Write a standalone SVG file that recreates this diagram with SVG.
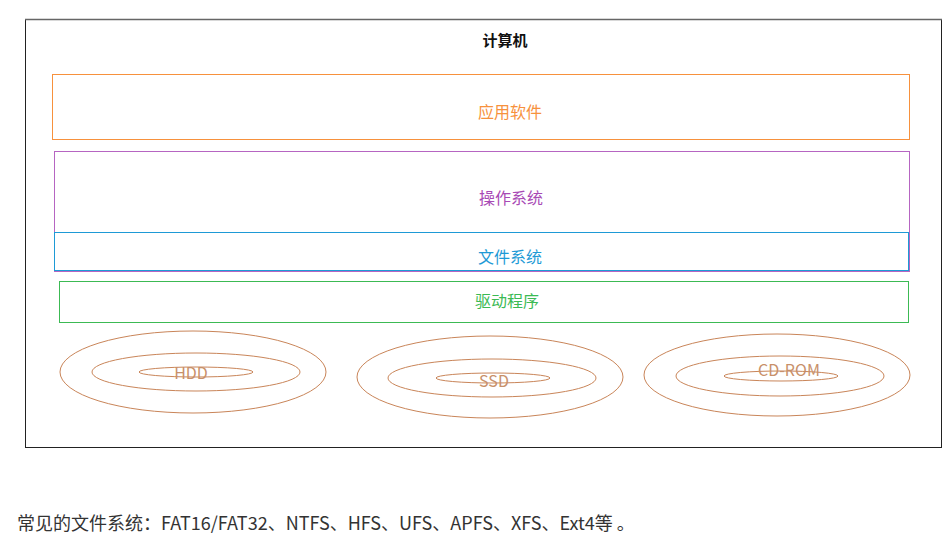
<svg xmlns="http://www.w3.org/2000/svg" width="947" height="548" viewBox="0 0 947 548">
<style>
text{font-family:"Noto Sans CJK SC","Liberation Sans",sans-serif;font-size:16px;text-anchor:middle;dominant-baseline:central}
.box{fill:none;stroke-width:1}
.disk{fill:none;stroke:#c98559;stroke-width:1}
.dl{fill:#c8906a}
</style>
<rect width="947" height="548" fill="#fff"/>
<g id="computer">
<rect x="25.5" y="19.5" width="916" height="428" fill="none" stroke="#222" stroke-width="1"/>
<line x1="25" y1="19.5" x2="942" y2="19.5" stroke="#666" stroke-width="1.5"/>
<text x="505" y="39" fill="#111" font-weight="bold" style="font-size:15px">计算机</text>
</g>
<g id="app">
<rect class="box" x="52.5" y="74.5" width="857" height="65" stroke="#f7913d"/>
<text x="510" y="111" fill="#f7913d">应用软件</text>
</g>
<g id="os">
<rect class="box" x="54.5" y="151.5" width="855" height="120" stroke="#b665c2"/>
<text x="511" y="197" fill="#a84ab5">操作系统</text>
</g>
<g id="fs">
<rect class="box" x="54.5" y="232.5" width="854" height="38" stroke="#1e9ad6"/>
<text x="510" y="256" fill="#1e9ad6">文件系统</text>
</g>
<g id="driver">
<rect class="box" x="59.5" y="281.5" width="849" height="41" stroke="#3cba54"/>
<text x="507" y="300" fill="#3cba54">驱动程序</text>
</g>
<g id="hdd">
<ellipse class="disk" cx="193" cy="372" rx="133" ry="41"/>
<ellipse class="disk" cx="196" cy="372" rx="104" ry="19"/>
<ellipse class="disk" cx="196" cy="372" rx="57" ry="5"/>
<text class="dl" x="191" y="372">HDD</text>
</g>
<g id="ssd">
<ellipse class="disk" cx="490" cy="377" rx="133" ry="41"/>
<ellipse class="disk" cx="492" cy="378" rx="104" ry="19"/>
<ellipse class="disk" cx="493" cy="378" rx="57" ry="5"/>
<text class="dl" x="494" y="380">SSD</text>
</g>
<g id="cdrom">
<ellipse class="disk" cx="777" cy="375" rx="133" ry="41"/>
<ellipse class="disk" cx="780" cy="376" rx="104" ry="20"/>
<ellipse class="disk" cx="781" cy="376" rx="57" ry="5"/>
<text class="dl" x="789" y="369">CD-ROM</text>
</g>
<g id="connectors"></g>
<text x="17" y="522" fill="#333" style="text-anchor:start;font-size:18px">常见的文件系统：FAT16/FAT32、NTFS、HFS、UFS、APFS、XFS、Ext4等 。</text>
</svg>
